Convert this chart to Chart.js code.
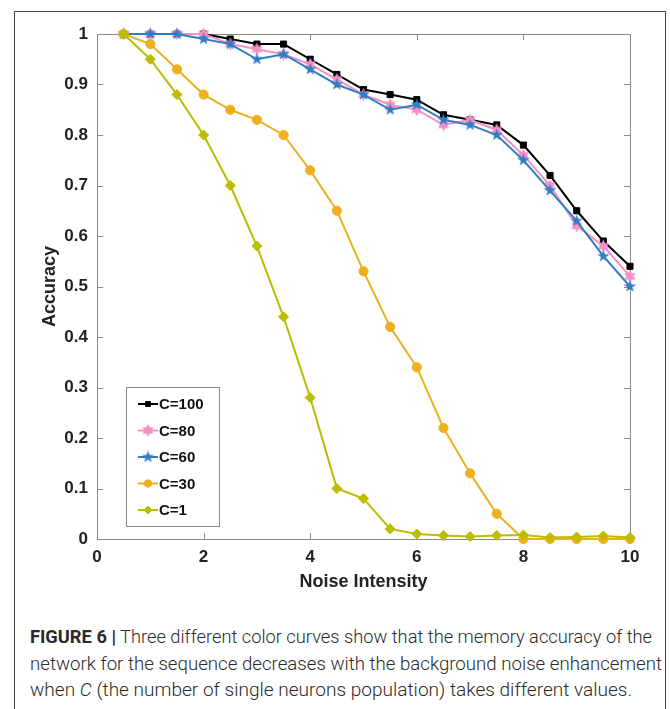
<!DOCTYPE html>
<html>
<head>
<meta charset="utf-8">
<script src="https://cdn.jsdelivr.net/npm/chart.js@4.4.1/dist/chart.umd.min.js"></script>
<style>
  html, body { margin: 0; padding: 0; background: #fff; }
  body { width: 670px; height: 709px; position: relative; overflow: hidden; }
  .frame { position: absolute; left: 14px; top: 11px; width: 652px; height: 720px; border: 1.5px solid #444; box-sizing: border-box; }
  #myChart { position: absolute; left: 0; top: 0; }
  .caption { position: absolute; left: 30px; font-family: Roboto, "Liberation Sans", sans-serif; font-weight: 300; font-size: 18px; color: #2a2a2a; white-space: nowrap; transform-origin: 0 50%; line-height: 20px; }
  .caption b { font-weight: 700; }
</style>
</head>
<body>
<div class="frame"></div>
<canvas id="myChart" width="670" height="597"></canvas>
<div class="caption" data-w="622" style="top:627px"><b>FIGURE 6 |</b> Three different color curves show that the memory accuracy of the</div>
<div class="caption" data-w="632" style="top:654px">network for the sequence decreases with the background noise enhancement</div>
<div class="caption" data-w="602" style="top:680px">when <i>C</i> (the number of single neurons population) takes different values.</div>
<script>
// ------ data ------------
var noise = [0.5, 1, 1.5, 2, 2.5, 3, 3.5, 4, 4.5, 5, 5.5, 6, 6.5, 7, 7.5, 8, 8.5, 9, 9.5, 10];
var acc100 = [1, 1, 1, 1, 0.99, 0.98, 0.98, 0.95, 0.92, 0.89, 0.88, 0.87, 0.84, 0.83, 0.82, 0.78, 0.72, 0.65, 0.59, 0.54];
var acc80 = [1, 1, 1, 1, 0.98, 0.97, 0.96, 0.94, 0.91, 0.88, 0.86, 0.85, 0.82, 0.83, 0.81, 0.76, 0.70, 0.62, 0.58, 0.52];
var acc60 = [1, 1, 1, 0.99, 0.98, 0.95, 0.96, 0.93, 0.90, 0.88, 0.85, 0.86, 0.83, 0.82, 0.80, 0.75, 0.69, 0.63, 0.56, 0.50];
var acc30 = [1, 0.98, 0.93, 0.88, 0.85, 0.83, 0.80, 0.73, 0.65, 0.53, 0.42, 0.34, 0.22, 0.13, 0.05, 0, 0, 0, 0, 0];
var acc1 = [1, 0.95, 0.88, 0.80, 0.70, 0.58, 0.44, 0.28, 0.10, 0.08, 0.02, 0.01, 0.007, 0.005, 0.007, 0.008, 0.003, 0.004, 0.006, 0.003];
var seriesNames = ['C=100', 'C=80', 'C=60', 'C=30', 'C=1'];
var xTicks = [0, 2, 4, 6, 8, 10];
var yTicks = [0, 0.1, 0.2, 0.3, 0.4, 0.5, 0.6, 0.7, 0.8, 0.9, 1];

var FONT = '"Liberation Sans", Arial, sans-serif';
var axisGray = '#8a8a8a';

// star markers (pentagram / hexagram) drawn on small canvases
function starCanvas(points, outer, inner, color) {
  var s = Math.ceil(outer * 2 + 2);
  var c = document.createElement('canvas');
  c.width = s; c.height = s;
  var g = c.getContext('2d');
  g.fillStyle = color;
  g.beginPath();
  for (var i = 0; i < points * 2; i++) {
    var r = i % 2 === 0 ? outer : inner;
    var a = -Math.PI / 2 + i * Math.PI / points;
    var px = s / 2 + r * Math.cos(a), py = s / 2 + r * Math.sin(a);
    if (i === 0) g.moveTo(px, py); else g.lineTo(px, py);
  }
  g.closePath();
  g.fill();
  return c;
}

function toPoints(arr) {
  return noise.map(function (x, i) { return { x: x, y: arr[i] }; });
}

var colors = ['#000000', '#f590c6', '#2f7dc4', '#edb120', '#bcbc00'];
var styles = [
  'rect',
  starCanvas(6, 6.5, 3.6, colors[1]),
  starCanvas(5, 6.5, 2.6, colors[2]),
  'circle',
  'rectRot'
];
var radii = [4.3, 5, 5, 4.6, 5];
var allSeries = [acc100, acc80, acc60, acc30, acc1];

var datasets = allSeries.map(function (arr, i) {
  return {
    label: seriesNames[i],
    data: toPoints(arr),
    borderColor: colors[i],
    backgroundColor: colors[i],
    borderWidth: 2,
    pointStyle: styles[i],
    pointRadius: radii[i],
    pointBorderWidth: 1,
    pointBackgroundColor: colors[i],
    pointBorderColor: colors[i],
    tension: 0,
    clip: false,
    order: 4 - i
  };
});

// box + inward ticks + legend
var boxPlugin = {
  id: 'boxPlugin',
  beforeDatasetsDraw: function (chart) {
    var ctx = chart.ctx, a = chart.chartArea;
    var xs = chart.scales.x, ys = chart.scales.y;
    ctx.save();
    ctx.strokeStyle = axisGray;
    ctx.lineWidth = 1;
    ctx.strokeRect(a.left + 0.5, a.top + 0.5, a.right - a.left, a.bottom - a.top);
    ctx.beginPath();
    xTicks.forEach(function (v) {
      var px = Math.round(xs.getPixelForValue(v)) + 0.5;
      ctx.moveTo(px, a.bottom); ctx.lineTo(px, a.bottom - 6);
      ctx.moveTo(px, a.top); ctx.lineTo(px, a.top + 6);
    });
    yTicks.forEach(function (v) {
      var py = Math.round(ys.getPixelForValue(v)) + 0.5;
      ctx.moveTo(a.left, py); ctx.lineTo(a.left + 6, py);
      ctx.moveTo(a.right, py); ctx.lineTo(a.right - 6, py);
    });
    ctx.stroke();
    ctx.restore();
  },
  afterDraw: function (chart) {
    var ctx = chart.ctx;
    var bx = 126, by = 387, bw = 93, bh = 139;
    ctx.save();
    ctx.fillStyle = '#fff';
    ctx.fillRect(bx, by, bw, bh);
    ctx.strokeStyle = axisGray;
    ctx.lineWidth = 1;
    ctx.strokeRect(bx + 0.5, by + 0.5, bw, bh);
    chart.data.datasets.forEach(function (ds, i) {
      var y = 404 + i * 26.5;
      ctx.strokeStyle = ds.borderColor;
      ctx.fillStyle = ds.borderColor;
      ctx.lineWidth = 2;
      ctx.beginPath();
      ctx.moveTo(138, y); ctx.lineTo(158, y);
      ctx.stroke();
      ctx.lineWidth = 1;
      Chart.helpers.drawPoint(ctx, { pointStyle: ds.pointStyle, radius: ds.pointRadius * 0.8, rotation: 0, borderWidth: 1 }, 148, y);
      ctx.fillStyle = '#111';
      ctx.font = 'bold 15px ' + FONT;
      ctx.textAlign = 'left';
      ctx.textBaseline = 'middle';
      ctx.fillText(ds.label, 159, y + 1);
    });
    ctx.restore();
  }
};

var myChart = new Chart('myChart', {
  type: 'line',
  data: { datasets: datasets },
  options: {
    responsive: false,
    animation: false,
    devicePixelRatio: 1,
    layout: { padding: { left: 35, top: 34, right: 40, bottom: 0 } },
    plugins: { legend: { display: false }, tooltip: { enabled: false } },
    scales: {
      x: {
        type: 'linear',
        min: 0, max: 10,
        afterBuildTicks: function (s) { s.ticks = xTicks.map(function (v) { return { value: v }; }); },
        afterFit: function (s) { s.height = 58; },
        grid: { display: false, drawTicks: false },
        border: { display: false },
        ticks: { padding: 8, color: '#222', font: { family: FONT, size: 17, weight: 'bold' }, maxRotation: 0 },
        title: { display: true, text: 'Noise Intensity', color: '#222', font: { family: FONT, size: 18, weight: 'bold' } }
      },
      y: {
        min: 0, max: 1,
        afterBuildTicks: function (s) { s.ticks = yTicks.map(function (v) { return { value: v }; }); },
        afterFit: function (s) { s.width = 62; },
        grid: { display: false, drawTicks: false },
        border: { display: false },
        ticks: { padding: 9, color: '#222', font: { family: FONT, size: 17, weight: 'bold' },
          callback: function (v) { return String(Math.round(v * 10) / 10); } },
        title: { display: true, text: 'Accuracy', color: '#222', font: { family: FONT, size: 18, weight: 'bold' } }
      }
    }
  },
  plugins: [boxPlugin]
});

// fit caption lines to their widths in the figure
document.querySelectorAll('.caption').forEach(function (el) {
  var w = el.getBoundingClientRect().width;
  var target = parseFloat(el.getAttribute('data-w'));
  el.style.transform = 'scaleX(' + (target / w) + ')';
});
</script>
</body>
</html>
